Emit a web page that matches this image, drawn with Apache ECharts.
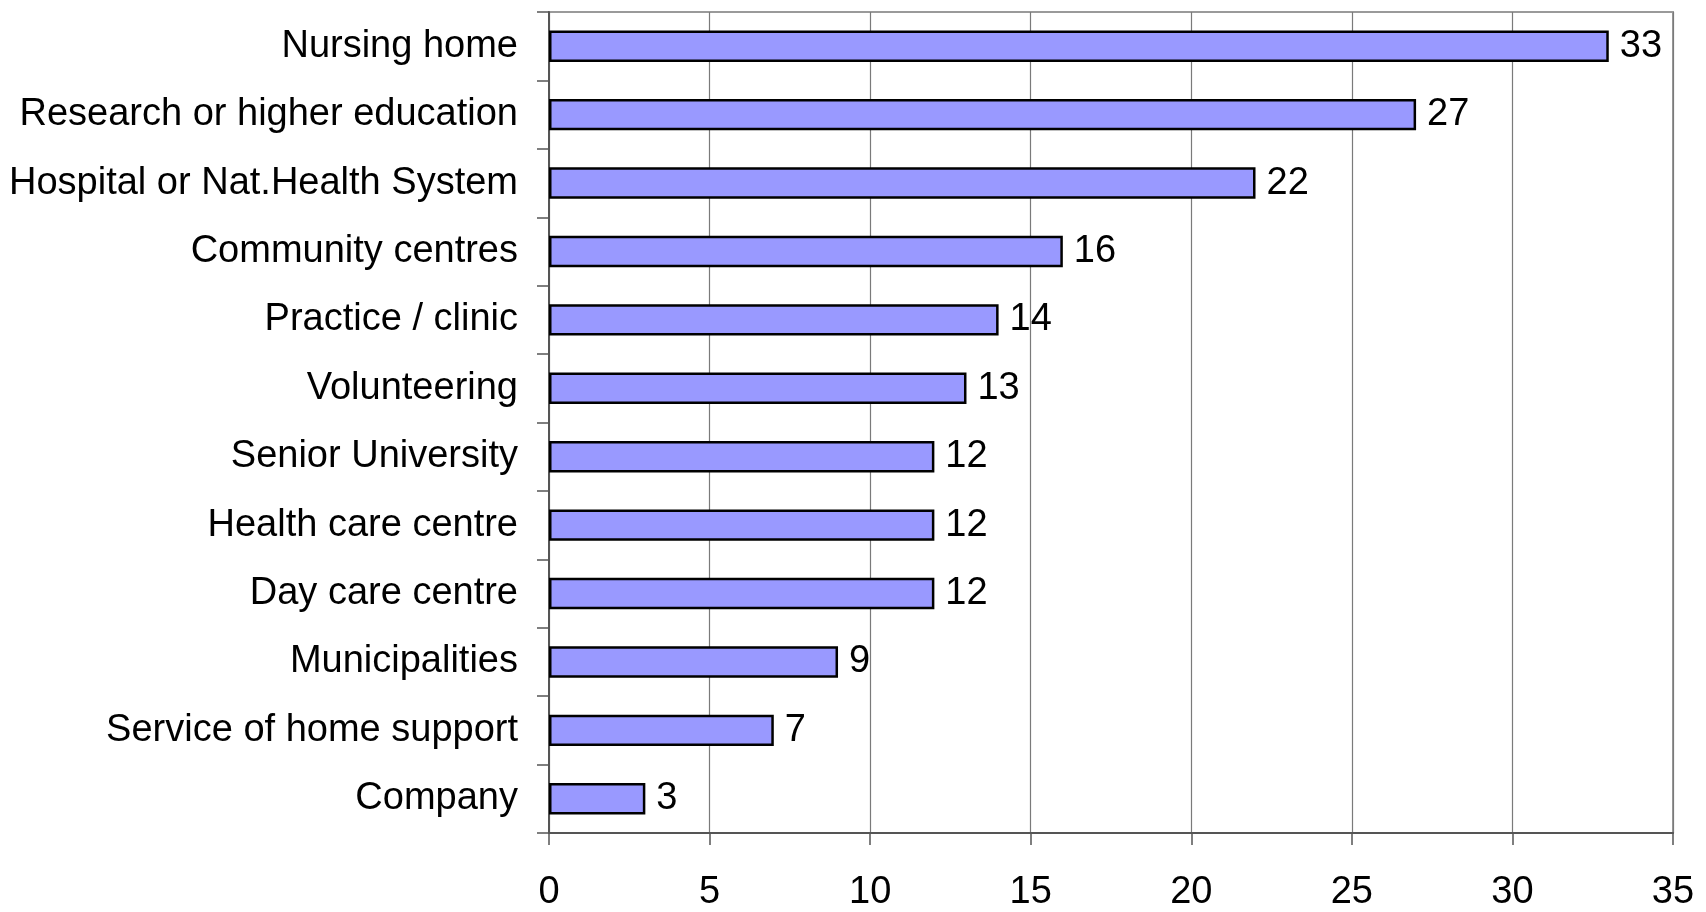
<!DOCTYPE html>
<html>
<head>
<meta charset="utf-8">
<script src="https://cdn.jsdelivr.net/npm/echarts@6/dist/echarts.min.js"></script>
<style>html,body{margin:0;padding:0;background:#fff}#c{width:1706px;height:912px}</style>
</head>
<body>
<div id="c"></div>
<script>
const categories = ["Nursing home","Research or higher education","Hospital or Nat.Health System","Community centres","Practice / clinic","Volunteering","Senior University","Health care centre","Day care centre","Municipalities","Service of home support","Company"];
const values = [33,27,22,16,14,13,12,12,12,9,7,3];
const xTicks = [0,5,10,15,20,25,30,35];

const chart = echarts.init(document.getElementById('c'), null, {renderer:'canvas'});
const font = '"Liberation Sans", Arial, sans-serif';
chart.setOption({
  animation: false,
  backgroundColor: '#ffffff',
  grid: {left: 549, right: 33, top: 12, bottom: 75, show: true, borderColor: '#9a9a9a', borderWidth: 2, backgroundColor: 'transparent'},
  xAxis: {
    type: 'value', min: xTicks[0], max: xTicks[xTicks.length-1], interval: 5,
    axisLine: {show: true, lineStyle: {color: '#555', width: 2}},
    axisTick: {show: true, length: 12, lineStyle: {color: '#555', width: 1.5}},
    splitLine: {show: true, lineStyle: {color: '#7a7a7a', width: 1.2}},
    axisLabel: {color: '#000', fontSize: 38, fontFamily: font, margin: 41}
  },
  yAxis: {
    type: 'category', data: categories, inverse: true,
    axisLine: {show: true, lineStyle: {color: '#555', width: 2}},
    axisTick: {show: true, length: 12, lineStyle: {color: '#555', width: 1.5}},
    axisLabel: {color: '#000', fontSize: 38, fontFamily: font, margin: 31}
  },
  series: [{
    type: 'bar', data: values, barCategoryGap: '54%',
    itemStyle: {color: '#9999FF', borderColor: '#000', borderWidth: 2.5},
    label: {show: true, position: 'right', distance: 11, color: '#000', fontSize: 38, fontFamily: font}
  }]
});
</script>
</body>
</html>
